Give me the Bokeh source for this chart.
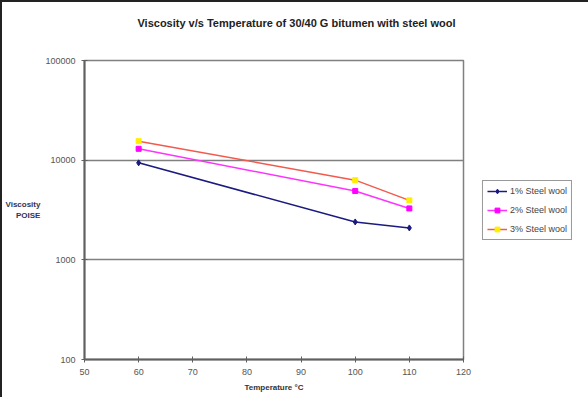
from bokeh.plotting import figure
from bokeh.models import Legend, LegendItem, FixedTicker, Div
from bokeh.layouts import column, row
from bokeh.embed import file_html
from bokeh.resources import INLINE

# ---- data ----
temps = [60, 100, 110]
sw1 = [9400, 2400, 2090]
sw2 = [13000, 4900, 3280]
sw3 = [15500, 6300, 3950]
series_names = ["1% Steel wool", "2% Steel wool", "3% Steel wool"]
x_ticks = [50, 60, 70, 80, 90, 100, 110, 120]
y_ticks = [100, 1000, 10000, 100000]
y_tick_labels = ["100", "1000", "10000", "100000"]
title_text = "Viscosity v/s Temperature of 30/40 G bitumen with steel wool"
y_label_text = "Viscosity\nPOISE"
x_label_text = "Temperature °C"

FONT = "Liberation Sans"

title_div = Div(text=title_text, width=579, height=36,
                styles={"text-align": "center", "font-family": FONT,
                        "font-size": "11px", "font-weight": "bold",
                        "line-height": "32px", "color": "#222222"})

p = figure(width=471, height=349, y_axis_type="log",
           x_range=(50, 120), y_range=(100, 100000),
           output_backend="svg", toolbar_location=None,
           min_border_left=78, min_border_right=10,
           min_border_top=12, min_border_bottom=38)

p.background_fill_color = "white"
p.border_fill_color = "white"
p.outline_line_color = "#808080"
p.outline_line_width = 1.5

p.xgrid.grid_line_color = None
p.ygrid.grid_line_color = "#808080"
p.ygrid.grid_line_width = 1.5
p.ygrid.minor_grid_line_color = None

p.xaxis.ticker = FixedTicker(ticks=x_ticks)
p.yaxis.ticker = FixedTicker(ticks=y_ticks, minor_ticks=[])
p.yaxis.major_label_overrides = {t: l for t, l in zip(y_ticks, y_tick_labels)}

for ax in (p.xaxis[0], p.yaxis[0]):
    ax.axis_line_color = "#606060"
    ax.axis_line_width = 2
    ax.major_tick_line_color = "#606060"
    ax.major_tick_in = 3
    ax.major_tick_out = 3
    ax.minor_tick_line_color = None
    ax.major_label_text_font = FONT
    ax.major_label_text_font_size = "9px"
    ax.major_label_text_color = "#555555"

p.yaxis.major_label_standoff = 6
p.xaxis.major_label_standoff = 6
p.xaxis.axis_label = x_label_text
p.xaxis.axis_label_text_font = FONT
p.xaxis.axis_label_text_font_size = "8px"
p.xaxis.axis_label_text_font_style = "bold"
p.xaxis.axis_label_text_color = "#333333"
p.xaxis.axis_label_standoff = 5

p.yaxis.axis_label = y_label_text
p.yaxis.axis_label_orientation = "horizontal"
p.yaxis.axis_label_text_font = FONT
p.yaxis.axis_label_text_font_size = "8px"
p.yaxis.axis_label_text_font_style = "bold"
p.yaxis.axis_label_text_color = "#333355"
p.yaxis.axis_label_standoff = 2

colors_line = ["#1a1a80", "#ff33ff", "#f25a4d"]
colors_mark = ["#1a1a80", "#ff00ff", "#ffee00"]
markers = ["diamond", "square", "square"]
sizes = [6, 5, 5]
series = [sw1, sw2, sw3]

for vals, lc, mc, mk, sz in zip(series, colors_line, colors_mark, markers, sizes):
    p.line(temps, vals, line_color=lc, line_width=1.5)
    p.scatter(temps, vals, marker=mk, size=sz, fill_color=mc, line_color=mc)

# legend panel: separate canvas so the legend sits outside the plot area.
# Its renderers use the same data, which falls outside this panel's range.
p2 = figure(width=108, height=349, x_range=(0, 1), y_range=(0, 1),
            x_axis_location=None, y_axis_location=None,
            output_backend="svg", toolbar_location=None, min_border=0)
p2.outline_line_color = None
p2.grid.visible = False
p2.background_fill_color = "white"
p2.border_fill_color = "white"

items = []
for vals, name, lc, mc, mk, sz in zip(series, series_names, colors_line,
                                      colors_mark, markers, sizes):
    r1 = p2.line(temps, vals, line_color=lc, line_width=1.5)
    r2 = p2.scatter(temps, vals, marker=mk, size=sz, fill_color=mc, line_color=mc)
    items.append(LegendItem(label=name, renderers=[r1, r2]))

legend = Legend(items=items, location="center")
legend.label_text_font = FONT
legend.label_text_font_size = "9px"
legend.label_text_color = "#444444"
legend.glyph_width = 20
legend.glyph_height = 12
legend.label_height = 12
legend.spacing = 7
legend.padding = 4
legend.margin = 0
legend.label_standoff = 3
legend.border_line_color = "#333333"
legend.border_line_width = 1.2
legend.background_fill_color = "white"
p2.add_layout(legend, "center")

layout = column(title_div, row(p, p2),
                styles={"border-left": "2px solid #222", "border-top": "2px solid #222",
                        "border-right": "2px solid #222", "background": "white"})

open("out.html", "w").write(file_html(layout, INLINE))
